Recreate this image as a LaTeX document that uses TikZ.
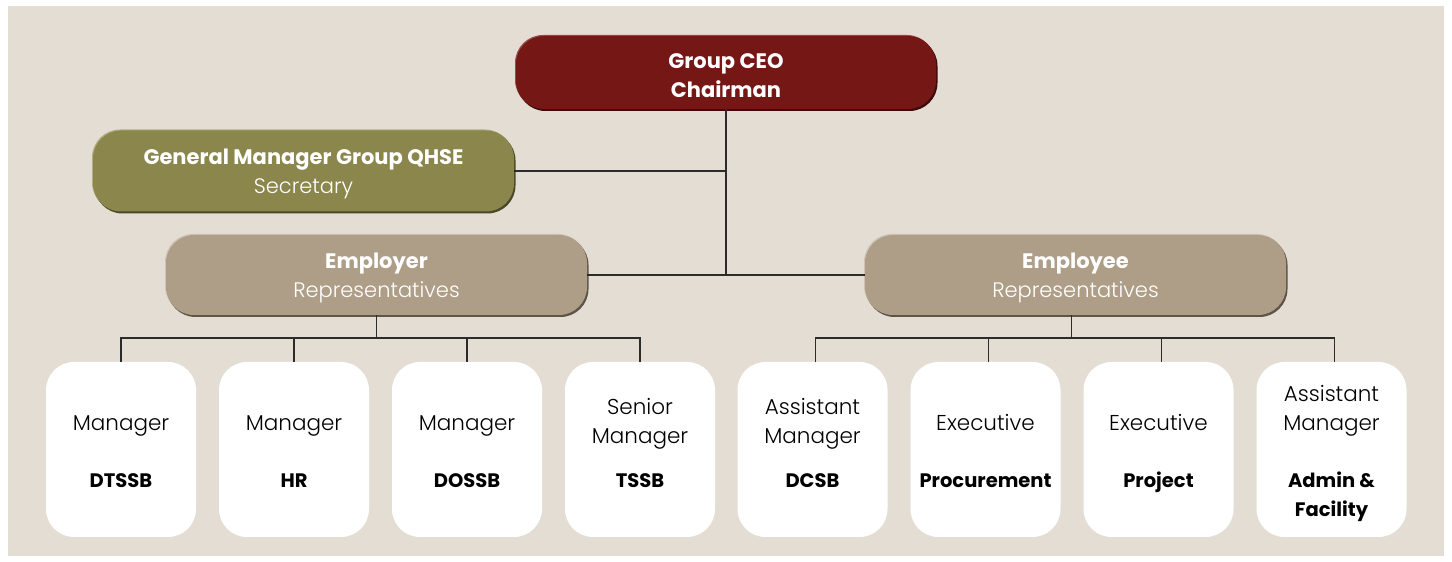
\documentclass[tikz,border=0pt]{standalone}
\usepackage{fontspec}
\setmainfont{Poppins}
\newfontfamily\thinfont{Poppins Light}
\definecolor{panel}{HTML}{E3DDD4}
\definecolor{ceo}{HTML}{741715}
\definecolor{ceodark}{HTML}{3E0A09}
\definecolor{ceolight}{HTML}{9A4A48}
\definecolor{qhse}{HTML}{8A864C}
\definecolor{qhsedark}{HTML}{4A4826}
\definecolor{qhselight}{HTML}{B2AE82}
\definecolor{rep}{HTML}{AE9E88}
\definecolor{repdark}{HTML}{5E5446}
\definecolor{replight}{HTML}{CFC4B4}
\definecolor{wire}{HTML}{2B2B2B}
\newcommand{\headstrut}{\rule{0pt}{21pt}}

\begin{document}
\begin{tikzpicture}[x=1pt, y=1pt, line width=1.2pt,
    bevel/.style n args={3}{preaction={fill=#3, transform canvas={shift={(-1pt,1pt)}}},
      preaction={fill=#2, transform canvas={shift={(1.5pt,-2pt)}}}, fill=#1},
    headbox/.style={rounded corners=28pt, minimum width=421pt, minimum height=80pt,
      inner sep=0pt, outer sep=0pt, align=center, text=white,
      font=\fontsize{21}{29}\selectfont},
    unitbox/.style={fill=white, rounded corners=28pt, minimum width=150pt, minimum height=175pt,
      inner sep=0pt, outer sep=0pt},
    unittitle/.style={anchor=north, inner sep=0pt, align=center, text=black,
      font=\fontsize{21.5}{29}\selectfont\thinfont, execute at begin node={\rule{0pt}{16pt}}},
    unitdept/.style={anchor=north, inner sep=0pt, align=center, text=black,
      font=\fontsize{19.5}{29}\selectfont\bfseries, execute at begin node={\rule{0pt}{16pt}}},
    wire/.style={draw=wire, line width=1.2pt}]
    \useasboundingbox (0,0) rectangle (1452,562);
    % panel
    \fill[panel] (8,6) rectangle (1444,556);
    % top of the tree
    \node[headbox, bevel={ceo}{ceodark}{ceolight}, minimum width=420pt, minimum height=73pt] (ceo) at (726,489.5)
      {\headstrut\bfseries Group CEO\\\bfseries Chairman};
    \node[headbox, bevel={qhse}{qhsedark}{qhselight}, minimum height=81pt] (gm) at (303.5,391)
      {\headstrut\bfseries General Manager Group QHSE\\{\thinfont Secretary}};
    % representatives
    \node[headbox, bevel={rep}{repdark}{replight}] (er) at (376.5,287)
      {\headstrut\bfseries Employer\\{\thinfont Representatives}};
    \node[headbox, bevel={rep}{repdark}{replight}] (ee) at (1075.5,287)
      {\headstrut\bfseries Employee\\{\thinfont Representatives}};
    \draw[wire] (ceo.south) -- (ceo.south |- er.east);
    \draw[wire] (gm.east) -- (gm.east -| ceo.south);
    \draw[wire] (er.east) -- (ee.west);
    \draw[wire] (er.south) -- ++(0,-23) coordinate (erbar);
    \draw[wire] ([xshift=-4pt]ee.south) -- ++(0,-23) coordinate (eebar);
    % employer side units
    \foreach \nm/\ttl/\dept/\ty [count=\k from 0] in {dtssb/Manager/DTSSB/35.5,
        hr/Manager/HR/35.5, dossb/Manager/DOSSB/35.5, tssb/{Senior\\Manager}/TSSB/51.5} {
      \node[unitbox] (\nm) at (121+173*\k,112.5) {};
      \node[unittitle] (\nm-t) at ([yshift=\ty]\nm.center) {\ttl};
      \node[unitdept] (\nm-d) at ([yshift=-21.5]\nm.center) {\dept};
      \draw[wire] (\nm.north) |- (erbar);
    }
    % employee side units
    \foreach \nm/\ttl/\dept/\ty [count=\k from 0] in {dcsb/{Assistant\\Manager}/DCSB/51.5,
        proc/Executive/Procurement/35.5, proj/Executive/Project/35.5,
        admin/{Assistant\\Manager}/{Admin \&\\Facility}/64.5} {
      \node[unitbox] (\nm) at (812.5+173*\k,112.5) {};
      \node[unittitle] (\nm-t) at ([yshift=\ty]\nm.center) {\ttl};
      \node[unitdept] (\nm-d) at ([yshift=-21.5]\nm.center) {\dept};
      \draw[wire] ([xshift=3pt]\nm.north) |- (eebar);
    }
\end{tikzpicture}
\end{document}
